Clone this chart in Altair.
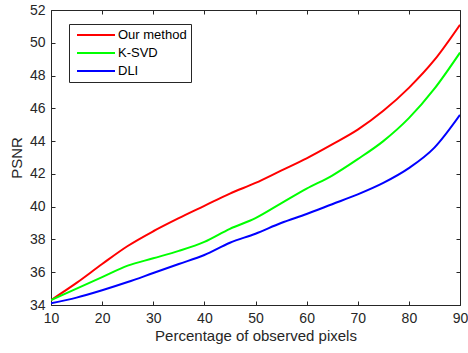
import altair as alt
import pandas as pd

# ---- data ----
pct = [10, 15, 20, 25, 30, 35, 40, 45, 50, 55, 60, 65, 70, 75, 80, 85, 90]
our_method = [34.3, 35.35, 36.5, 37.6, 38.5, 39.3, 40.05, 40.8, 41.45, 42.2, 42.95, 43.8, 44.7, 45.85, 47.25, 48.95, 51.1]
ksvd = [34.3, 35.0, 35.7, 36.4, 36.85, 37.3, 37.85, 38.65, 39.3, 40.2, 41.1, 41.9, 42.9, 44.0, 45.4, 47.2, 49.4]
dli = [34.1, 34.45, 34.9, 35.4, 35.95, 36.5, 37.05, 37.8, 38.35, 39.0, 39.55, 40.15, 40.75, 41.45, 42.35, 43.6, 45.6]
series_names = ["Our method", "K-SVD", "DLI"]
series_colors = ["#ff0000", "#00ff00", "#0000ff"]
x_ticks = [10, 20, 30, 40, 50, 60, 70, 80, 90]
y_ticks = [34, 36, 38, 40, 42, 44, 46, 48, 50, 52]

rows = []
for name, vals in zip(series_names, [our_method, ksvd, dli]):
    for p, v in zip(pct, vals):
        rows.append({"pct": p, "psnr": v, "method": name})
df = pd.DataFrame(rows)

FONT = "Liberation Sans"
INK = "#262626"

xscale = alt.Scale(domain=[10, 90], nice=False, zero=False)
yscale = alt.Scale(domain=[34, 52], nice=False, zero=False)

lines = alt.Chart(df).mark_line(interpolate="monotone", strokeWidth=2, clip=True).encode(
    x=alt.X("pct:Q", scale=xscale, axis=alt.Axis(
        orient="bottom", values=x_ticks, ticks=False, domain=False, grid=False,
        labelPadding=6, labelFontSize=14, labelFont=FONT, labelColor=INK,
        labelFlush=False, labelOverlap=False,
        title="Percentage of observed pixels", titleFont=FONT, titleFontSize=15,
        titleColor=INK, titleFontWeight="normal", titlePadding=3)),
    y=alt.Y("psnr:Q", scale=yscale, axis=alt.Axis(
        orient="left", values=y_ticks, ticks=False, domain=False, grid=False,
        labelPadding=6, labelFontSize=14, labelFont=FONT, labelColor=INK,
        labelFlush=False, labelOverlap=False,
        title="PSNR", titleFont=FONT, titleFontSize=15,
        titleColor=INK, titleFontWeight="normal", titlePadding=5)),
    color=alt.Color("method:N", scale=alt.Scale(domain=series_names, range=series_colors),
                    legend=alt.Legend(
                        title=None, orient="none", legendX=18, legendY=14,
                        symbolType="M-0.5,0L5.8333,0", symbolSize=144,
                        symbolStrokeWidth=2, labelOffset=31, labelFontSize=13,
                        labelFont=FONT, labelColor="#000000", padding=4,
                        strokeColor=INK, fillColor="white", rowPadding=4,
                        cornerRadius=0)),
)


def tick_axis(orient, values):
    return alt.Axis(orient=orient, values=values, labels=False, domain=False,
                    grid=False, ticks=True, tickSize=4, offset=-4,
                    tickColor=INK, tickWidth=1, title=None)


ticks_a = alt.Chart(df).mark_line(opacity=0).encode(
    x=alt.X("pct:Q", scale=xscale, axis=tick_axis("bottom", x_ticks)),
    y=alt.Y("psnr:Q", scale=yscale, axis=tick_axis("left", y_ticks)),
    detail="method:N",
)
ticks_b = alt.Chart(df).mark_line(opacity=0).encode(
    x=alt.X("pct:Q", scale=xscale, axis=tick_axis("top", x_ticks)),
    y=alt.Y("psnr:Q", scale=yscale, axis=tick_axis("right", y_ticks)),
    detail="method:N",
)

chart = alt.layer(ticks_a, ticks_b, lines).resolve_axis(
    x="independent", y="independent"
).properties(
    width=409, height=295,
    autosize=alt.AutoSizeParams(type="none"),
    padding={"left": 51, "top": 10, "right": 8, "bottom": 48},
    background="white",
).configure_view(stroke=INK, strokeWidth=1)

chart.save("out.html", embed_options={"renderer": "svg", "actions": False})
